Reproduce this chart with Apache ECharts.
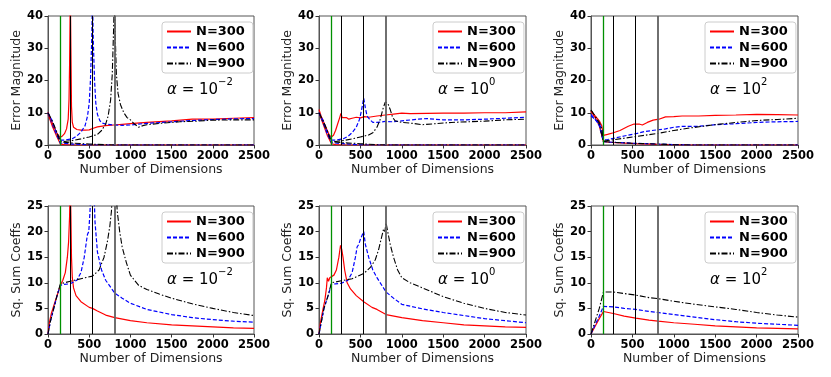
<!DOCTYPE html>
<html>
<head>
    <meta http-equiv="Content-Type" content="text/html; charset=utf-8" />
    <script src="https://cdn.jsdelivr.net/npm/echarts@6/dist/echarts.min.js"></script>
    <style>
        html, body { margin: 0; padding: 0; background: #fff; }
    </style>
</head>
<body>

<div id="main" style="width: 831px; height: 377px;"></div>

<script type="text/javascript">

    var seriesNames = ['N=300', 'N=600', 'N=900'];
    var alphaExp = ['\u22122', '0', '2'];
    var cutoffs = [150, 270, 540, 810];

    // error magnitude, alpha = 1e-2
    var errM2_300 = [[0,10.2],[25,8.5],[50,7],[75,5.5],[100,4],[125,3],[150,2.4],[175,2.8],[200,3.5],[225,5],[245,8],[255,14],[262,25],[268,40],[272,45],[278,30],[285,12],[295,7],[310,5.5],[350,4.8],[400,4.6],[450,4.6],[500,4.7],[550,5.2],[600,5.6],[700,6],[800,6.2],[900,6.4],[1000,6.6],[1200,7],[1500,7.5],[1750,8],[2000,8],[2250,8.3],[2500,8.5]];
    var errM2_600 = [[0,10],[50,7.5],[100,4],[150,1.5],[200,1.5],[300,2],[350,2.8],[400,4],[450,6],[480,9],[500,13],[515,20],[530,32],[540,45],[550,32],[565,20],[580,13],[600,9.5],[630,7.5],[660,6.8],[700,6.5],[800,6.2],[900,6.1],[1000,6.2],[1100,6.5],[1200,6.7],[1500,7.2],[1750,7.6],[2000,7.9],[2250,8.1],[2500,8.2]];
    var errM2_900 = [[0,10],[50,7.5],[100,4.5],[150,1.2],[200,1.1],[300,1.4],[400,1.9],[500,2.5],[600,3.3],[650,4.5],[700,6.5],[730,9],[760,14],[780,22],[795,35],[805,45],[815,35],[830,22],[850,16],[880,12.5],[920,10],[960,8.5],[1000,7.8],[1050,6.5],[1100,5.5],[1150,6],[1200,6.3],[1400,6.8],[1600,7.2],[1800,7.4],[2000,7.7],[2250,7.8],[2500,7.8]];
    var trnM2_300 = [[0,9.5],[50,6],[100,3],[150,0.3],[200,0.1],[270,0],[2500,0]];
    var trnM2_600 = [[0,9.8],[50,6.5],[100,3.5],[150,0.6],[300,0.3],[450,0.1],[540,0],[2500,0]];
    var trnM2_900 = [[0,10],[50,7],[100,4],[150,1],[300,0.6],[500,0.3],[700,0.1],[810,0],[2500,0]];

    // error magnitude, alpha = 1e0
    var err0_300 = [[0,11],[25,9],[50,7.5],[75,6],[100,4.5],[125,3],[150,2.5],[175,3],[200,4.5],[225,6.5],[250,8.5],[265,9.8],[280,8.5],[300,8],[330,8.5],[360,8],[400,8.3],[450,8.6],[500,8.4],[550,8.8],[600,8.6],[700,9],[800,9.3],[900,9.6],[1000,9.9],[1100,9.7],[1300,9.8],[1500,9.9],[1750,9.9],[2000,10],[2250,10],[2500,10.3]];
    var err0_600 = [[0,10],[50,7.5],[100,4],[150,1.5],[200,1.5],[300,2],[350,2.7],[400,3.8],[450,5.5],[490,8],[515,11],[540,14.5],[560,11.5],[580,9],[610,8],[650,7],[700,7],[800,7.3],[900,7.2],[1000,7.5],[1200,8],[1300,8.2],[1500,7.8],[1750,7.8],[2000,8],[2250,8.3],[2500,8.6]];
    var err0_900 = [[0,10],[50,7.5],[100,4.5],[150,1],[200,1.1],[300,1.4],[400,1.9],[500,2.5],[600,3.1],[650,3.8],[700,5.5],[740,8],[770,11],[800,13.3],[830,13],[860,11],[890,8.5],[920,7.5],[1000,7],[1100,6.8],[1250,6.3],[1400,6.6],[1600,7],[1800,7.2],[2000,7.4],[2250,7.8],[2500,8]];
    var trn0_300 = [[0,10],[50,6.5],[100,3],[150,0.4],[200,0.1],[270,0],[2500,0]];
    var trn0_600 = [[0,10],[50,7],[100,3.5],[150,0.7],[300,0.4],[450,0.1],[540,0],[2500,0]];
    var trn0_900 = [[0,10],[50,7],[100,4],[150,1],[300,0.7],[500,0.4],[700,0.1],[810,0],[2500,0]];

    // error magnitude, alpha = 1e2
    var errP2_300 = [[0,10.5],[50,9],[100,7.5],[130,6],[150,3],[200,3.3],[270,3.8],[350,4.5],[450,5.8],[520,6.5],[580,6.5],[620,6.2],[680,7],[750,7.7],[820,8],[900,8.7],[1000,8.8],[1100,9],[1300,9],[1500,9.2],[1750,9.3],[2000,9.5],[2250,9.4],[2500,9.3]];
    var errP2_600 = [[0,9],[50,8],[100,6.5],[130,5],[150,1.5],[200,1.7],[300,2.2],[400,2.8],[540,3.5],[650,4.2],[800,4.7],[900,5],[1000,5.5],[1100,5.8],[1300,5.8],[1500,6.3],[1750,6.6],[2000,7],[2250,7.2],[2500,7.3]];
    var errP2_900 = [[0,10.8],[50,9],[100,7],[130,5],[150,1.2],[270,1.6],[400,2.1],[540,2.6],[700,3.2],[810,3.6],[1000,4.5],[1200,5.3],[1500,6.3],[1750,7],[2000,7.6],[2250,7.9],[2500,8.3]];
    var trnP2_300 = [[0,10.5],[50,8.5],[100,6],[150,1],[300,0.7],[540,0.4],[810,0.2],[1000,0.1],[1200,0],[2500,0]];
    var trnP2_600 = [[0,9.5],[50,8],[100,6],[150,1],[300,0.8],[540,0.5],[810,0.3],[1000,0.1],[1200,0],[2500,0]];
    var trnP2_900 = [[0,10.8],[50,8.8],[100,6.5],[150,1.1],[300,0.8],[540,0.5],[810,0.3],[1000,0.1],[1200,0],[2500,0]];

    // squared sum of coefficients, alpha = 1e-2
    var coefM2_300 = [[0,0],[20,2.5],[40,4],[80,6],[120,8],[150,9.5],[180,10.5],[210,12],[235,15],[250,18],[262,23],[270,30],[278,23],[285,15],[295,11],[310,9],[340,7.5],[400,6.3],[500,5.2],[540,5],[600,4.5],[700,3.7],[810,3.2],[1000,2.6],[1200,2.2],[1500,1.8],[1750,1.6],[2000,1.4],[2250,1.2],[2500,1.1]];
    var coefM2_600 = [[0,0],[30,2.5],[70,5],[110,7.5],[150,9.5],[200,9.7],[270,9.8],[350,10.5],[400,12],[440,15],[470,18.5],[480,19.5],[495,20],[510,24],[525,30],[540,40],[555,30],[570,22],[600,16],[650,12.5],[700,10.5],[810,8],[900,7],[1000,6],[1200,4.8],[1500,3.8],[1750,3.2],[2000,2.8],[2250,2.5],[2500,2.3]];
    var coefM2_900 = [[0,0],[30,2.5],[70,5],[110,7.5],[150,9.8],[270,10.3],[400,10.8],[540,11.3],[620,12.5],[680,15],[720,18],[750,21],[770,24],[790,30],[805,40],[820,30],[840,24],[870,20],[900,17],[950,14],[1000,11.5],[1050,10.5],[1100,9.5],[1200,8.7],[1350,7.8],[1500,7],[1750,5.9],[2000,5],[2250,4.2],[2500,3.6]];

    // squared sum of coefficients, alpha = 1e0
    var coef0_300 = [[0,0],[20,2.5],[50,5],[70,6.5],[90,9],[100,11],[115,10.3],[130,11],[150,11],[180,11.5],[210,12.5],[240,15],[260,17.3],[275,16.5],[290,15],[310,12.5],[340,10],[380,8.8],[450,7.5],[540,6.3],[640,5.2],[700,4.8],[810,3.8],[1000,3.2],[1250,2.6],[1500,2.2],[1750,1.8],[2000,1.6],[2250,1.4],[2500,1.3]];
    var coef0_600 = [[0,0],[30,2.5],[60,5],[110,7.5],[150,9.7],[200,9.8],[270,9.9],[350,10.5],[400,12],[440,15],[460,17],[480,17.5],[500,18.5],[540,20],[560,17.5],[600,15],[650,12.5],[700,11],[810,8.2],[900,7],[1000,5.8],[1250,4.9],[1500,4.2],[1750,3.6],[2000,3],[2250,2.6],[2500,2.2]];
    var coef0_900 = [[0,0],[30,2.5],[60,5],[110,7.5],[150,10],[270,10.4],[400,10.8],[540,11.8],[620,13],[680,14.5],[720,16.5],[750,18.5],[780,20.5],[795,20],[810,21.7],[830,20],[860,17.5],[900,15],[950,12.5],[1000,11],[1100,10],[1250,9],[1500,7.3],[1750,6],[2000,5],[2250,4.2],[2500,3.7]];

    // squared sum of coefficients, alpha = 1e2
    var coefP2_300 = [[0,0],[50,1.5],[100,3],[150,4.4],[270,4],[400,3.5],[540,3.1],[700,2.7],[810,2.5],[1000,2.2],[1250,1.9],[1500,1.6],[1750,1.4],[2000,1.2],[2250,1.1],[2500,1]];
    var coefP2_600 = [[0,0],[50,1.8],[100,3.5],[150,5.4],[270,5.3],[400,5],[540,4.8],[700,4.4],[810,4.2],[1000,3.8],[1250,3.3],[1500,2.8],[1750,2.4],[2000,2.1],[2250,1.9],[2500,1.7]];
    var coefP2_900 = [[0,0],[50,2.5],[100,5],[150,8.2],[270,8.2],[400,7.9],[540,7.6],[700,7.1],[810,6.9],[1000,6.4],[1250,5.8],[1500,5.3],[1750,4.8],[2000,4.2],[2250,3.7],[2500,3.3]];

    var panels = [
        {left: 48, top: 16, width: 206, height: 129, ymax: 40, yint: 10, yname: 'Error Magnitude', a: 0, main: [errM2_300, errM2_600, errM2_900], trn: [trnM2_300, trnM2_600, trnM2_900]},
        {left: 319, top: 16, width: 207, height: 129, ymax: 40, yint: 10, yname: 'Error Magnitude', a: 1, main: [err0_300, err0_600, err0_900], trn: [trn0_300, trn0_600, trn0_900]},
        {left: 591, top: 16, width: 207, height: 129, ymax: 40, yint: 10, yname: 'Error Magnitude', a: 2, main: [errP2_300, errP2_600, errP2_900], trn: [trnP2_300, trnP2_600, trnP2_900]},
        {left: 48, top: 206, width: 206, height: 128, ymax: 25, yint: 5, yname: 'Sq. Sum Coeffs', a: 0, main: [coefM2_300, coefM2_600, coefM2_900], trn: []},
        {left: 319, top: 206, width: 207, height: 128, ymax: 25, yint: 5, yname: 'Sq. Sum Coeffs', a: 1, main: [coef0_300, coef0_600, coef0_900], trn: []},
        {left: 591, top: 206, width: 207, height: 128, ymax: 25, yint: 5, yname: 'Sq. Sum Coeffs', a: 2, main: [coefP2_300, coefP2_600, coefP2_900], trn: []}
    ];

    var colors = ['#ff0000', '#0000ff', '#000000'];
    var lineStyles = [
        {color: '#ff0000', width: 1.2, type: 'solid'},
        {color: '#0000ff', width: 1.2, type: [4, 2]},
        {color: '#000000', width: 1.1, type: [6, 2, 1.5, 2]}
    ];
    var cutColors = ['#009000', '#000000', '#000000', '#606060'];
    var cutWidths = [1.3, 1, 1, 1.8];

    var font = 'DejaVu Sans';
    var grids = [], xAxes = [], yAxes = [], series = [], legends = [], titles = [];

    function plain(v) { return String(v); }

    panels.forEach(function (p, i) {
        grids.push({left: p.left, top: p.top, width: p.width, height: p.height,
            show: true, borderColor: '#555', borderWidth: 1, backgroundColor: 'transparent'});
        xAxes.push({
            type: 'value', gridIndex: i, min: 0, max: 2500, interval: 500,
            name: 'Number of Dimensions', nameLocation: 'middle', nameGap: 17,
            nameTextStyle: {fontFamily: font, fontSize: 12.5, color: '#222'},
            axisLine: {lineStyle: {color: '#555'}},
            axisTick: {length: 3.5, lineStyle: {color: '#333'}},
            axisLabel: {fontFamily: font, fontWeight: 'bold', fontSize: 11.5, color: '#000', margin: 5, formatter: plain},
            splitLine: {show: false}
        });
        yAxes.push({
            type: 'value', gridIndex: i, min: 0, max: p.ymax, interval: p.yint,
            name: p.yname, nameLocation: 'middle', nameGap: 24,
            nameTextStyle: {fontFamily: font, fontSize: 12.5, color: '#222'},
            axisLine: {show: true, lineStyle: {color: '#555'}},
            axisTick: {show: true, length: 3.5, lineStyle: {color: '#333'}},
            axisLabel: {fontFamily: font, fontWeight: 'bold', fontSize: 11.5, color: '#000', margin: 5, formatter: plain},
            splitLine: {show: false}
        });

        p.trn.forEach(function (d, k) {
            series.push({name: seriesNames[k], type: 'line', xAxisIndex: i, yAxisIndex: i,
                data: d, symbol: 'none', color: colors[k], lineStyle: lineStyles[k], z: 2, animation: false});
        });
        p.main.forEach(function (d, k) {
            series.push({name: seriesNames[k], type: 'line', xAxisIndex: i, yAxisIndex: i,
                data: d, symbol: 'none', color: colors[k], lineStyle: lineStyles[k], z: 3, animation: false});
        });
        // vertical reference lines, one markLine holder per panel
        series.push({
            type: 'line', xAxisIndex: i, yAxisIndex: i, data: [], animation: false, z: 4,
            markLine: {
                silent: true, symbol: 'none', label: {show: false}, animation: false,
                data: cutoffs.map(function (c, j) {
                    return {xAxis: c, lineStyle: {type: 'solid', color: cutColors[j], width: cutWidths[j]}};
                })
            }
        });

        legends.push({
            left: p.left + 114, top: p.top + 6, orient: 'vertical',
            data: seriesNames, itemWidth: 24, itemHeight: 14, itemGap: 3,
            padding: [3, 8, 3, 4], borderColor: '#ccc', borderWidth: 1, borderRadius: 3,
            backgroundColor: 'rgba(255,255,255,0.8)',
            itemStyle: {opacity: 0},
            textStyle: {fontFamily: font, fontWeight: 'bold', fontSize: 13, color: '#000'}
        });

        titles.push({
            left: p.left + 119, top: p.top + 61, padding: 0,
            text: '{a|\u03b1}{m| = 10}{s|' + alphaExp[p.a] + '}',
            textStyle: {
                fontWeight: 'normal',
                rich: {
                    a: {fontFamily: font, fontStyle: 'italic', fontWeight: 'normal', fontSize: 15, color: '#000', lineHeight: 21, verticalAlign: 'bottom'},
                    m: {fontFamily: font, fontWeight: 'normal', fontSize: 15, color: '#000', lineHeight: 21, verticalAlign: 'bottom'},
                    s: {fontFamily: font, fontWeight: 'normal', fontSize: 10, color: '#000', lineHeight: 11, verticalAlign: 'top'}
                }
            }
        });
    });

    var chart = echarts.init(document.getElementById('main'));
    chart.setOption({
        animation: false,
        title: titles,
        legend: legends,
        grid: grids,
        xAxis: xAxes,
        yAxis: yAxes,
        series: series
    });

</script>

</body>
</html>
